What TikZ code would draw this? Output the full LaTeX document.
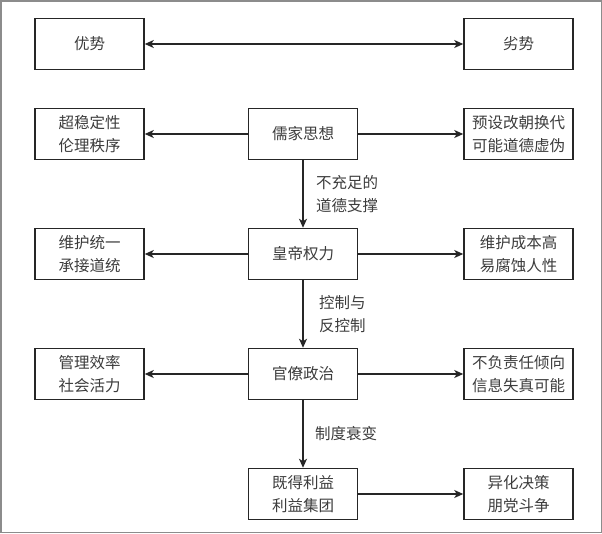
\documentclass[tikz,border=0pt]{standalone}
\usepackage{fontspec}
\usepackage{xcolor}
\usepackage{tikz}
\usetikzlibrary{arrows.meta}
\setmainfont{Noto Sans CJK SC}
\definecolor{txtgray}{HTML}{3C3C3C}
\definecolor{framegray}{HTML}{8C8C8C}

\begin{document}
\begin{tikzpicture}[x=1pt,y=-1pt,
    box/.style={draw=black!85,line width=1.5pt,minimum width=109pt,minimum height=51pt,
        align=center,text=txtgray,font=\fontsize{15.5}{23}\selectfont,inner sep=0pt},
    lab/.style={right,align=left,text=txtgray,font=\fontsize{15.5}{23}\selectfont},
    arr/.style={line width=1.5pt,draw=black!85,-{Stealth[length=9pt,width=8pt,inset=2.5pt]}}]
    \useasboundingbox (0,0) rectangle (602,533);
    \draw[framegray,line width=1.5pt] (0.75,0.75) rectangle (601.25,532.25);
    \node[box] (l1) at (89.5,44) {优势};
    \node[box] (r1) at (518.5,44) {劣势};
    \node[box] (l2) at (89.5,134) {超稳定性\\伦理秩序};
    \node[box] (c2) at (303,134) {儒家思想};
    \node[box] (r2) at (518.5,134) {预设改朝换代\\可能道德虚伪};
    \node[box] (l3) at (89.5,254) {维护统一\\承接道统};
    \node[box] (c3) at (303,254) {皇帝权力};
    \node[box] (r3) at (518.5,254) {维护成本高\\易腐蚀人性};
    \node[box] (l4) at (89.5,374) {管理效率\\社会活力};
    \node[box] (c4) at (303,374) {官僚政治};
    \node[box] (r4) at (518.5,374) {不负责任倾向\\信息失真可能};
    \node[box] (c5) at (303,494) {既得利益\\利益集团};
    \node[box] (r5) at (518.5,494) {异化决策\\朋党斗争};
    \draw[arr,{Stealth[length=9pt,width=8pt,inset=2.5pt]}-{Stealth[length=9pt,width=8pt,inset=2.5pt]}] (l1) to (r1);
    \draw[arr] (c2) to (l2);
    \draw[arr] (c2) to (r2);
    \draw[arr] (c3) to (l3);
    \draw[arr] (c3) to (r3);
    \draw[arr] (c4) to (l4);
    \draw[arr] (c4) to (r4);
    \draw[arr] (c5) to (r5);
    \draw[arr] (c2) to node[lab,xshift=9pt] (t1) {不充足的\\道德支撑} (c3);
    \draw[arr] (c3) to node[lab,xshift=12pt] (t2) {控制与\\反控制} (c4);
    \draw[arr] (c4) to node[lab,xshift=8pt] (t3) {制度衰变} (c5);
\end{tikzpicture}
\end{document}
